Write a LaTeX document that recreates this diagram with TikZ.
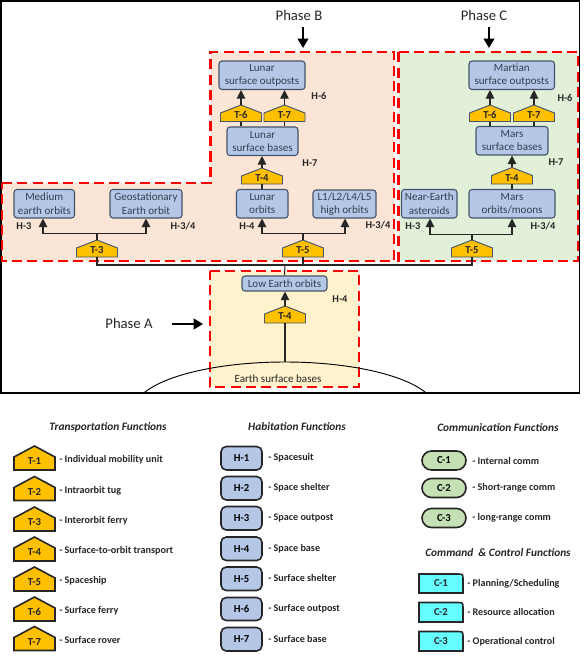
\documentclass[tikz,border=0pt]{standalone}
\usepackage{fontspec}
\setmainfont{Carlito}
\usetikzlibrary{arrows.meta,shapes.misc}
\definecolor{peach}{HTML}{FBE5D6}
\definecolor{mint}{HTML}{E2F0D9}
\definecolor{cream}{HTML}{FFF2CC}
\definecolor{hfill}{HTML}{B4C7E7}
\definecolor{hline}{HTML}{44546A}
\definecolor{gold}{HTML}{FFC000}
\definecolor{cgreen}{HTML}{C5E0B4}
\definecolor{ccyan}{HTML}{66FFFF}
\definecolor{txt}{HTML}{333F50}
\tikzset{
  px/.style={x=0.75pt,y=-0.75pt},
  phasezone/.style={draw=red,line width=1.9pt,dash pattern=on 7.5pt off 4pt},
  hab/.style={draw=hline,fill=hfill,rounded corners=2.2pt,line width=0.8pt,inner sep=0pt,align=center,text=txt,font=\fontsize{8.3}{9.9}\selectfont},
  pent/.style={draw=hline,fill=gold,line width=0.7pt,line join=miter},
  pentlabel/.style={inner sep=0pt,font=\fontsize{8}{9}\selectfont\bfseries,text=black!85},
  legpent/.style={draw=black!85,fill=gold,line width=1.2pt},
  leghab/.style={draw=black!85,fill=hfill,rounded corners=4pt,line width=1.2pt,inner sep=0pt,font=\fontsize{8}{9}\selectfont\bfseries},
  legcap/.style={draw=black!85,fill=cgreen,rounded rectangle,line width=1.2pt,inner sep=0pt,font=\fontsize{8}{9}\selectfont\bfseries},
  legcmd/.style={draw=black!85,fill=ccyan,line width=1.2pt},
  hlabel/.style={inner sep=0pt,font=\fontsize{7.8}{9}\selectfont\bfseries,text=black!85},
  legtext/.style={anchor=west,inner sep=0pt,font=\fontsize{7.6}{9}\selectfont\bfseries,text=black!85},
  legtitle/.style={inner sep=0pt,font=\fontsize{8.5}{9}\selectfont\bfseries\itshape,text=black!85},
  phasetext/.style={inner sep=0pt,font=\fontsize{11}{13}\selectfont,text=black!85},
  conn/.style={draw=black!85,line width=0.8pt},
  arrowconn/.style={conn,-{Triangle[length=6.5pt,width=6.5pt]}},
  phasearrow/.style={draw=black,line width=1.4pt,-{Triangle[length=7pt,width=8pt]}},
}
% name, x1, y1, x2, y2, text
\newcommand\habnode[6]{\node[hab,minimum width={(#4-#2)*0.75pt},minimum height={(#5-#3)*0.75pt}] (#1) at ({(#2+#4)/2},{(#3+#5)/2}) {#6};}
% name, cx, top, bottom, text
\newcommand\pentnode[5]{%
  \draw[pent] ({#2-20.5},#4) -- ({#2-20.5},{#3+8}) -- (#2,#3) -- ({#2+20.5},{#3+8}) -- ({#2+20.5},#4) -- cycle;
  \node[pentlabel,minimum width=30.75pt,minimum height={(#4-#3)*0.75pt}] (#1) at (#2,{(#3+#4)/2}) {\raisebox{-4pt}[0pt][0pt]{#5}};}
% name, bottom, text, description
\newcommand\legpentnode[4]{%
  \draw[legpent] (14,#2) -- (14,{#2-13}) -- (34.5,{#2-24}) -- (55,{#2-13}) -- (55,#2) -- cycle;
  \node[pentlabel,minimum width=30.75pt,minimum height=18pt] (#1) at (34.5,{#2-12}) {\raisebox{-5pt}[0pt][0pt]{#3}};
  \node[legtext] (#1d) at (59,{#2-10}) {- #4};}
% name, y1, y2, text, description
\newcommand\leghabnode[5]{%
  \node[leghab,minimum width=30.75pt,minimum height={(#3-#2)*0.75pt}] (#1) at (241.5,{(#2+#3)/2}) {#4};
  \node[legtext] (#1d) at (268,{(#2+#3)/2-0.5}) {- #5};}
\newcommand\legcapnode[5]{%
  \node[legcap,minimum width=33pt,minimum height={(#3-#2)*0.75pt}] (#1) at (444,{(#2+#3)/2}) {#4};
  \node[legtext] (#1d) at (472,{(#2+#3)/2}) {- #5};}
\newcommand\legcmdnode[5]{%
  \draw[legcmd] (419,#2) -- (457,#2) .. controls (463,#2) and (463,#2) .. (463,{#2+6}) -- (463,#3) -- (419,#3) -- cycle;
  \node[pentlabel,minimum width=33pt,minimum height={(#3-#2)*0.75pt}] (#1) at (441,{(#2+#3)/2}) {#4};
  \node[legtext] (#1d) at (467,{(#2+#3)/2}) {- #5};}
\begin{document}
\begin{tikzpicture}[px]
\useasboundingbox (0,0) rectangle (588,656);
% frame
\draw[black,line width=1.1pt] (1,1) rectangle (579.5,393);
% phase zones
\path[fill=peach,phasezone] (2,183) -- (210.5,183) -- (210.5,52) -- (394,52) -- (394,261) -- (2,261) -- cycle;
\path[fill=mint,phasezone] (398.5,52) -- (578,52) -- (578,261) -- (398.5,261) -- cycle;
\path[fill=cream,phasezone] (210,271) -- (359,271) -- (359,387) -- (210,387) -- cycle;
% earth
\begin{scope}
\clip (0,0) rectangle (588,392.5);
\draw[black,line width=0.7pt] (285,410) ellipse [x radius=151,y radius=48];
\end{scope}
\coordinate (earth) at (285,362);
\node[inner sep=0pt,text=black!85,font=\fontsize{8.3}{9.9}\selectfont] (earthlabel) at (278,378.5) {Earth surface bases};
% habitation nodes
\habnode{lso}{219}{61}{305}{89.5}{Lunar\\surface outposts}
\habnode{lsb}{227}{127}{298}{155.5}{Lunar\\surface bases}
\habnode{lo}{236.5}{189.5}{288}{218}{Lunar\\orbits}
\habnode{meo}{14}{189.5}{74.5}{218}{Medium\\earth orbits}
\habnode{geo}{110}{189.5}{182}{218}{Geostationary\\Earth orbit}
\habnode{lpo}{313}{190}{376}{218}{L1/L2/L4/L5\\high orbits}
\habnode{mso}{469}{61}{554.5}{89.5}{Martian\\surface outposts}
\habnode{msb}{476}{126.5}{548}{155}{Mars\\surface bases}
\habnode{moo}{469}{189.5}{555}{218}{Mars\\orbits/moons}
\habnode{nea}{401.5}{189.5}{457}{218}{Near-Earth\\asteroids}
\habnode{leo}{242}{276}{327}{291}{Low Earth orbits}
% transport nodes
\pentnode{tl6}{241}{105}{121.5}{T-6}
\pentnode{tl7}{284.5}{105}{121.5}{T-7}
\pentnode{tl4}{262}{168}{184}{T-4}
\pentnode{t3}{97}{240}{257}{T-3}
\pentnode{tb5}{303}{240}{257}{T-5}
\pentnode{tm6}{490}{105}{121.5}{T-6}
\pentnode{tm7}{534}{105}{121.5}{T-7}
\pentnode{tm4}{512}{167.5}{184}{T-4}
\pentnode{tc5}{472}{240}{257}{T-5}
\pentnode{ta4}{285}{306}{323}{T-4}
% connectors
\draw[arrowconn] (tl6.north) -- (tl6.north |- lso.south);
\draw[arrowconn] (tl7.north) -- (tl7.north |- lso.south);
\draw[conn] (tl6.south) -- (tl6.south |- lsb.north);
\draw[conn] (tl7.south) -- (tl7.south |- lsb.north);
\draw[arrowconn] (tl4.north) -- (tl4.north |- lsb.south);
\draw[conn] (tl4.south) -- (tl4.south |- lo.north);
\draw[arrowconn] (tm6.north) -- (tm6.north |- mso.south);
\draw[arrowconn] (tm7.north) -- (tm7.north |- mso.south);
\draw[conn] (tm6.south) -- (tm6.south |- msb.north);
\draw[conn] (tm7.south) -- (tm7.south |- msb.north);
\draw[arrowconn] (tm4.north) -- (tm4.north |- msb.south);
\draw[conn] (tm4.south) -- (tm4.south |- moo.north);
\coordinate (b3l) at (43,233.5);
\coordinate (b3r) at (146,233.5);
\draw[arrowconn] (t3.north) -- (t3.north |- b3l) -- (b3l) -- (b3l |- meo.south);
\draw[arrowconn] (t3.north) -- (t3.north |- b3r) -- (b3r) -- (b3r |- geo.south);
\coordinate (b5l) at (262,233.5);
\coordinate (b5r) at (345,233.5);
\draw[arrowconn] (tb5.north) -- (tb5.north |- b5l) -- (b5l) -- (b5l |- lo.south);
\draw[arrowconn] (tb5.north) -- (tb5.north |- b5r) -- (b5r) -- (b5r |- lpo.south);
\coordinate (c5l) at (430,234.5);
\coordinate (c5r) at (512,234.5);
\draw[arrowconn] (tc5.north) -- (tc5.north |- c5l) -- (c5l) -- (c5l |- nea.south);
\draw[arrowconn] (tc5.north) -- (tc5.north |- c5r) -- (c5r) -- (c5r |- moo.south);
\coordinate (bus) at (285,265);
\draw[conn] (t3.south) -- (t3.south |- bus) -- (tc5.south |- bus) -- (tc5.south);
\draw[conn] (tb5.south) -- (tb5.south |- bus);
\draw[conn] (bus) -- (leo.north);
\draw[arrowconn] (ta4.north) -- (ta4.north |- leo.south);
\draw[conn] (ta4.south) -- (earth);
% level labels
\node[hlabel] (h1) at (319,96) {H-6};
\node[hlabel] (h2) at (310,163.5) {H-7};
\node[hlabel] (h3) at (24,226) {H-3};
\node[hlabel] (h4) at (183,226) {H-3/4};
\node[hlabel] (h5) at (247,226) {H-4};
\node[hlabel] (h6) at (378,225.5) {H-3/4};
\node[hlabel] (h7) at (565,98) {H-6};
\node[hlabel] (h8) at (556,162.5) {H-7};
\node[hlabel] (h9) at (413,226) {H-3};
\node[hlabel] (h10) at (543,226) {H-3/4};
\node[hlabel] (h11) at (340,299.5) {H-4};
% phases
\node[phasetext] (pb) at (299,15) {Phase B};
\node[phasetext] (pc) at (484,15) {Phase C};
\node[phasetext] (pa) at (129,323.5) {Phase A};
\coordinate (pbt) at (303,48);
\coordinate (pct) at (489,48);
\coordinate (pat) at (203,324);
\draw[phasearrow] (303,27) -- (pbt);
\draw[phasearrow] (489,27) -- (pct);
\draw[phasearrow] (172,324) -- (pat);
% legend
\node[legtitle] (lt1) at (108,427.5) {Transportation Functions};
\node[legtitle] (lt2) at (297,427) {Habitation Functions};
\node[legtitle] (lt3) at (498,427.5) {Communication Functions};
\node[legtitle] (lt4) at (498,553) {Command \ \& Control Functions};
\legpentnode{l1}{470}{T-1}{Individual mobility unit}
\legpentnode{l2}{500.5}{T-2}{Intraorbit tug}
\legpentnode{l3}{531}{T-3}{Interorbit ferry}
\legpentnode{l4}{561}{T-4}{Surface-to-orbit transport}
\legpentnode{l5}{591}{T-5}{Spaceship}
\legpentnode{l6}{621}{T-6}{Surface ferry}
\legpentnode{l7}{650.5}{T-7}{Surface rover}
\leghabnode{m1}{446.5}{470}{H-1}{Spacesuit}
\leghabnode{m2}{476.5}{500}{H-2}{Space shelter}
\leghabnode{m3}{506.5}{530}{H-3}{Space outpost}
\leghabnode{m4}{537}{560.5}{H-4}{Space base}
\leghabnode{m5}{567}{590.5}{H-5}{Surface shelter}
\leghabnode{m6}{597.5}{620.5}{H-6}{Surface outpost}
\leghabnode{m7}{627.5}{651}{H-7}{Surface base}
\legcapnode{c1}{451}{470}{C-1}{Internal comm}
\legcapnode{c2}{478.5}{497.5}{C-2}{Short-range comm}
\legcapnode{c3}{508.5}{527.5}{C-3}{long-range comm}
\legcmdnode{d1}{574}{593}{C-1}{Planning/Scheduling}
\legcmdnode{d2}{602.5}{622}{C-2}{Resource allocation}
\legcmdnode{d3}{631.5}{651}{C-3}{Operational control}
\end{tikzpicture}
\end{document}
